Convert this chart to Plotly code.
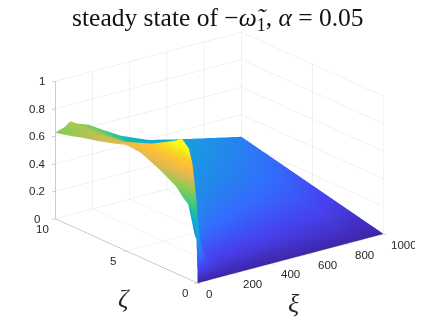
import math
import plotly.graph_objects as go

xi = [0, 8, 16, 22, 30, 40, 50, 65, 80, 100, 120, 180, 250, 350, 500, 700, 850, 1000]
zeta = [0, 0.05, 0.14, 0.25, 0.5, 0.75, 1, 1.5, 2, 2.5, 3, 4, 5, 6, 7, 8, 9, 10]
omega = [
    [0, 0, 0, 0, 0, 0, 0, 0, 0, 0, 0, 0, 0, 0, 0, 0, 0, 0],
    [.22, .20, .15, .12, .10, .07, .05, .03, .02, .015, .01, .006, .006, .005, .004, .003, .003, .001],
    [.42, .40, .33, .26, .20, .14, .10, .07, .05, .04, .03, .019, .017, .014, .012, .010, .009, .003],
    [.47, .44, .40, .34, .28, .20, .15, .11, .08, .06, .05, .031, .028, .024, .020, .017, .014, .006],
    [.52, .62, .71, .68, .60, .42, .28, .19, .13, .10, .08, .056, .050, .043, .036, .030, .026, .012],
    [.55, .67, .78, .84, .82, .68, .48, .29, .17, .13, .10, .078, .07, .06, .05, .042, .036, .018],
    [.57, .70, .82, .89, .92, .82, .62, .38, .22, .15, .12, .10, .09, .077, .063, .053, .046, .024],
    [.63, .76, .88, .94, .97, .91, .80, .60, .44, .24, .17, .14, .12, .106, .087, .073, .063, .036],
    [.66, .76, .86, .91, .93, .90, .84, .70, .56, .46, .40, .18, .16, .134, .111, .092, .08, .048],
    [.69, .77, .84, .87, .90, .88, .85, .74, .60, .52, .47, .28, .19, .16, .132, .11, .095, .06],
    [.715, .77, .82, .85, .87, .86, .84, .75, .63, .57, .52, .38, .23, .187, .154, .129, .111, .072],
    [.76, .775, .79, .80, .80, .81, .81, .76, .68, .63, .59, .48, .32, .24, .198, .165, .143, .096],
    [.77, .775, .775, .775, .77, .77, .77, .75, .71, .67, .64, .54, .42, .285, .233, .195, .168, .12],
    [.735, .735, .735, .735, .73, .73, .73, .725, .71, .68, .655, .58, .48, .33, .269, .224, .194, .144],
    [.705, .705, .71, .71, .71, .71, .71, .705, .70, .675, .65, .60, .52, .37, .30, .251, .217, .168],
    [.68, .68, .685, .69, .69, .69, .69, .69, .69, .67, .645, .60, .54, .42, .332, .277, .239, .192],
    [.65, .655, .66, .66, .665, .67, .67, .68, .685, .665, .645, .61, .55, .45, .365, .304, .262, .216],
    [.625, .63, .635, .64, .64, .645, .65, .665, .68, .665, .65, .62, .56, .48, .395, .33, .285, .24],
]
xi_ticks = [0, 200, 400, 600, 800, 1000]
zeta_ticks = [0, 5, 10]
z_ticks = [0, 0.2, 0.4, 0.6, 0.8, 1]

parula = [
    [0.0, "rgb(62,38,168)"], [0.1, "rgb(71,65,239)"], [0.2, "rgb(52,107,253)"],
    [0.3, "rgb(31,142,232)"], [0.4, "rgb(17,170,214)"], [0.5, "rgb(22,187,172)"],
    [0.6, "rgb(65,200,130)"], [0.7, "rgb(140,204,86)"], [0.8, "rgb(225,185,80)"],
    [0.87, "rgb(254,190,60)"], [0.93, "rgb(250,210,40)"], [1.0, "rgb(249,251,20)"],
]

az, el = math.radians(37.4), math.radians(20.2)
R = 2.2
S = 1.478
cz = -0.06
eye = dict(x=-R * math.sin(az) * math.cos(el), y=-R * math.cos(az) * math.cos(el), z=R * math.sin(el) + cz)

def axis(vals, rng):
    return dict(
        range=rng, tickvals=vals, autorange=False, showticklabels=False,
        showbackground=False, gridcolor="#e4e4e4", gridwidth=1, zeroline=False,
        showline=True, linecolor="#9a9a9a", linewidth=1, ticks="outside", ticklen=4,
        tickcolor="#9a9a9a", showspikes=False, title=dict(text=""),
    )

def label(x, y, z, text, dx, dy, size=11.5, family="Liberation Sans"):
    return dict(x=x, y=y, z=z, text=text, showarrow=False, xshift=dx, yshift=-dy,
                xanchor="center", yanchor="middle",
                font=dict(family=family, size=size, color="#262626"))

annots = [label(0, 10, v, str(v), -18 if v != 1 else -13, 0) for v in z_ticks]
annots += [label(0, v, 0, str(v), -13, 10) for v in zeta_ticks]
annots += [label(v, 0, 0, str(v), 11 if v == 0 else (20 if v == 1000 else 18), 11) for v in xi_ticks]
annots += [label(0, 5, 0, "<i>ζ</i>", -2, 48, 26, "Liberation Serif"), label(500, 0, 0, "<i>ξ</i>", 3, 45, 26, "Liberation Serif")]

nx, ny = len(xi), len(zeta)
mx, my, mz, ia, ib, ic = [], [], [], [], [], []
for r in range(ny):
    for c in range(nx):
        mx.append(xi[c]); my.append(zeta[r]); mz.append(omega[r][c])
for r in range(ny - 1):
    for c in range(nx - 1):
        v = r * nx + c
        ia += [v, v]; ib += [v + 1, v + nx + 1]; ic += [v + nx + 1, v + nx]

fig = go.Figure(go.Mesh3d(
    x=mx, y=my, z=mz, i=ia, j=ib, k=ic, intensity=mz, intensitymode="vertex",
    colorscale=parula, cmin=0, cmax=0.92, showscale=False, flatshading=False, hoverinfo="skip",
    lighting=dict(ambient=1, diffuse=0, specular=0, roughness=1, fresnel=0),
))
fig.update_layout(
    width=423, height=317, margin=dict(l=0, r=0, t=0, b=0), paper_bgcolor="white",
    title=dict(text="steady state of −<i>ω̃</i><sub>1</sub>, <i>α</i> = 0.05", x=0.496, xanchor="center",
               y=1.0, yanchor="top", pad=dict(t=0, b=0), font=dict(family="Liberation Serif", size=25.5, color="#111111")),
    scene=dict(
        domain=dict(x=[0, 1], y=[0, 1]),
        xaxis=axis(xi_ticks, [0, 1000]),
        yaxis=axis(zeta_ticks, [0, 10]),
        zaxis=axis(z_ticks, [0, 1]),
        aspectmode="manual", aspectratio=dict(x=S, y=S, z=0.626 * S),
        camera=dict(eye=eye, up=dict(x=0, y=0, z=1), center=dict(x=0, y=0, z=cz),
                    projection=dict(type="orthographic")),
        annotations=annots,
    ),
)
fig.write_html("out.html")
